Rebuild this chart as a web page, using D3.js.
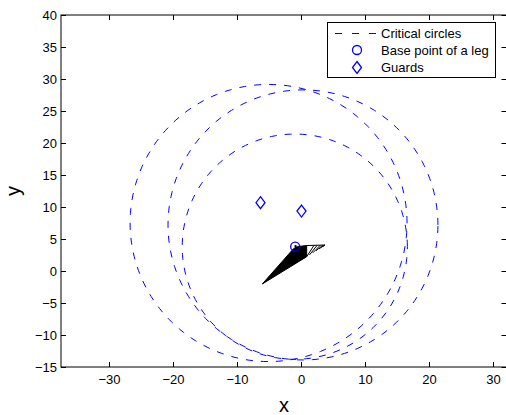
<!DOCTYPE html>
<html><head><meta charset="utf-8">
<script src="https://cdn.jsdelivr.net/npm/d3@7"></script>
<style>body{margin:0;background:#fff}svg{display:block}text{font-family:"Liberation Sans",Arial,Helvetica,sans-serif}</style>
</head><body><svg id="c" width="506" height="415"></svg>
<script>
const xTicks = [-30,-20,-10,0,10,20,30];
const yTicks = [-15,-10,-5,0,5,10,15,20,25,30,35,40];
const xDomain = [-37.55, 32.1];
const yDomain = [-15, 40];
// critical circles
const circleCx = [-5.1, 0.28, -1.0];
const circleCy = [7.5, 7.2, 3.8];
const circleR  = [21.65, 21.1, 17.6];
// base point of a leg
const baseX = [-0.94];
const baseY = [3.8];
// guards
const guardX = [-6.36, 0.05];
const guardY = [10.67, 9.37];
// leg body (solid part of the black wedge)
const legX = [-6.08, -1.24, -0.5, 0.86, 0.86];
const legY = [-2.03, 3.44, 3.83, 3.98, 2.23];
// spike under the base point
const spikeX = [-0.9, -0.73];
const spikeY = [4.06, 2.66];
// hatched tail of the wedge: segments (x1,y1)-(x2,y2)
const hatchX1 = [0.86, 1.3, 1.8, 2.3, 2.8, 3.3, 0.86];
const hatchY1 = [2.23, 2.51, 2.83, 3.15, 3.47, 3.79, 3.98];
const hatchX2 = [2.0, 2.5, 3.0, 3.4, 3.72, 3.72, 3.72];
const hatchY2 = [4.0, 4.02, 4.04, 4.05, 4.06, 4.06, 4.06];
const legendLabels = ["Critical circles", "Base point of a leg", "Guards"];

const svg = d3.select("#c");
const L = 61, R = 506.5, T = 15, B = 367;
const x = d3.scaleLinear().domain(xDomain).range([L, R]);
const y = d3.scaleLinear().domain(yDomain).range([B, T]);
const blue = "#0000ff";

svg.append("defs").append("clipPath").attr("id","clip").append("rect")
  .attr("x",L).attr("y",T).attr("width",R-L).attr("height",B-T);
const g = svg.append("g").attr("clip-path","url(#clip)");
const line = d3.line().x(d=>x(d[0])).y(d=>y(d[1]));

// circles
circleCx.forEach((cx,i)=>{
  const pts = d3.range(0,361,2).map(a=>[cx+circleR[i]*Math.cos(a*Math.PI/180), circleCy[i]+circleR[i]*Math.sin(a*Math.PI/180)]);
  g.append("path").attr("d", line(pts))
    .attr("fill","none").attr("stroke",blue).attr("stroke-width",1).attr("stroke-dasharray","7,8");
});

// leg wedge
g.append("path").attr("d", line(legX.map((v,i)=>[v,legY[i]])) + "Z")
  .attr("fill","#000").attr("stroke","#000").attr("stroke-width",1);
hatchX1.forEach((v,i)=>{
  g.append("path").attr("d", line([[v,hatchY1[i]],[hatchX2[i],hatchY2[i]]]))
    .attr("stroke","#000").attr("stroke-width",1);
});
g.append("path").attr("d", line(spikeX.map((v,i)=>[v,spikeY[i]])))
  .attr("stroke","#000").attr("stroke-width",2);

// base point
baseX.forEach((bx,i)=>{
  g.append("circle").attr("cx",x(bx)).attr("cy",y(baseY[i])).attr("r",4.5)
    .attr("fill","none").attr("stroke",blue).attr("stroke-width",1.3);
});
const diamond = (cx,cy)=>`M${cx},${cy-6}L${cx+4.5},${cy}L${cx},${cy+6}L${cx-4.5},${cy}Z`;
guardX.forEach((gx,i)=>{
  g.append("path").attr("d",diamond(x(gx),y(guardY[i])))
    .attr("fill","none").attr("stroke",blue).attr("stroke-width",1.3);
});

// axes box
const ax = svg.append("g");
ax.append("rect").attr("x",L).attr("y",T).attr("width",R-L).attr("height",B-T)
  .attr("fill","none").attr("stroke","#000").attr("stroke-width",1);
const tl = 5;
xTicks.forEach(t=>{
  const px = Math.round(x(t))+0.5;
  ax.append("line").attr("x1",px).attr("x2",px).attr("y1",B).attr("y2",B-tl).attr("stroke","#000");
  ax.append("line").attr("x1",px).attr("x2",px).attr("y1",T).attr("y2",T+tl).attr("stroke","#000");
  ax.append("text").attr("x",px).attr("y",B+17).attr("text-anchor","middle").attr("font-size",13)
    .text(t<0?"\u2212"+(-t):t);
});
yTicks.forEach(t=>{
  const py = Math.round(y(t))+0.5;
  ax.append("line").attr("x1",L).attr("x2",L+tl).attr("y1",py).attr("y2",py).attr("stroke","#000");
  ax.append("line").attr("x1",R).attr("x2",R-tl).attr("y1",py).attr("y2",py).attr("stroke","#000");
  ax.append("text").attr("x",L-4).attr("y",py+4.5).attr("text-anchor","end").attr("font-size",13)
    .text(t<0?"\u2212"+(-t):t);
});
svg.append("text").attr("x",284).attr("y",412).attr("text-anchor","middle").attr("font-size",20).text("x");
svg.append("text").attr("transform","translate(20,191) rotate(-90)").attr("text-anchor","middle").attr("font-size",20).text("y");

// legend
const lg = svg.append("g");
lg.append("rect").attr("x",327.5).attr("y",22.5).attr("width",168).attr("height",55)
  .attr("fill","#fff").attr("stroke","#000").attr("stroke-width",1);
const rowY = [33.5, 50, 67.5];
lg.append("line").attr("x1",335).attr("x2",378).attr("y1",rowY[0]).attr("y2",rowY[0])
  .attr("stroke",blue).attr("stroke-dasharray","7,10");
lg.append("circle").attr("cx",357).attr("cy",rowY[1]).attr("r",4.5).attr("fill","none").attr("stroke",blue).attr("stroke-width",1.3);
lg.append("path").attr("d",diamond(357,rowY[2])).attr("fill","none").attr("stroke",blue).attr("stroke-width",1.3);
legendLabels.forEach((s,i)=>{
  lg.append("text").attr("x",381).attr("y",rowY[i]+4.5).attr("font-size",13).text(s);
});
</script></body></html>
